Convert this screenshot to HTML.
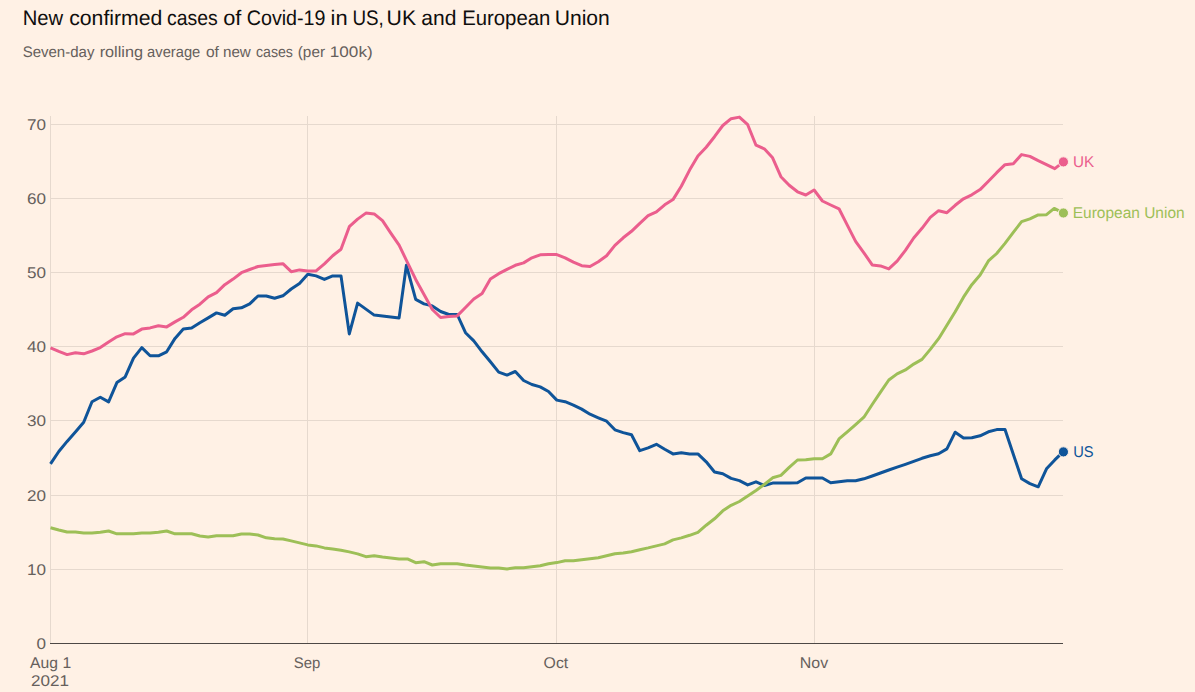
<!DOCTYPE html>
<html><head><meta charset="utf-8"><title>Covid-19 cases</title>
<style>
html,body{margin:0;padding:0;background:#FFF1E5;}
body{width:1195px;height:692px;overflow:hidden;font-family:"Liberation Sans",sans-serif;}
svg{display:block;font-family:"Liberation Sans",sans-serif;}
.g{stroke:#e6d9ce;stroke-width:1;shape-rendering:crispEdges;}
.ln{fill:none;stroke-width:3;stroke-linejoin:round;stroke-linecap:butt;}
</style></head><body>
<svg width="1195" height="692" viewBox="0 0 1195 692">
<rect width="1195" height="692" fill="#FFF1E5"/>

<line class="g" x1="50" x2="1063" y1="569.5" y2="569.5"/>
<line class="g" x1="50" x2="1063" y1="495.5" y2="495.5"/>
<line class="g" x1="50" x2="1063" y1="420.5" y2="420.5"/>
<line class="g" x1="50" x2="1063" y1="346.5" y2="346.5"/>
<line class="g" x1="50" x2="1063" y1="272.5" y2="272.5"/>
<line class="g" x1="50" x2="1063" y1="198.5" y2="198.5"/>
<line class="g" x1="50" x2="1063" y1="124.5" y2="124.5"/>
<line class="g" x1="50.5" x2="50.5" y1="116" y2="643"/>
<line class="g" x1="307.5" x2="307.5" y1="116" y2="643"/>
<line class="g" x1="556.5" x2="556.5" y1="116" y2="643"/>
<line class="g" x1="814.5" x2="814.5" y1="116" y2="643"/>
<line x1="50" x2="1063" y1="643.5" y2="643.5" stroke="#4d4845" stroke-width="1" shape-rendering="crispEdges"/>
<text text-rendering="geometricPrecision" transform="translate(22.78,24.7) scale(0.9623,1)" font-size="21.0" fill="#0f0e0d">New</text>
<text text-rendering="geometricPrecision" transform="translate(69.15,24.7) scale(1.0112,1)" font-size="21.0" fill="#0f0e0d">confirmed</text>
<text text-rendering="geometricPrecision" transform="translate(166.92,24.7) scale(0.9243,1)" font-size="21.0" fill="#0f0e0d">cases</text>
<text text-rendering="geometricPrecision" transform="translate(223.13,24.7) scale(1.0368,1)" font-size="21.0" fill="#0f0e0d">of</text>
<text text-rendering="geometricPrecision" transform="translate(246.72,24.7) scale(0.9377,1)" font-size="21.0" fill="#0f0e0d">Covid-19</text>
<text text-rendering="geometricPrecision" transform="translate(330.57,24.7) scale(1.0417,1)" font-size="21.0" fill="#0f0e0d">in</text>
<text text-rendering="geometricPrecision" transform="translate(352.50,24.7) scale(0.8952,1)" font-size="21.0" fill="#0f0e0d">US,</text>
<text text-rendering="geometricPrecision" transform="translate(386.61,24.7) scale(1.0078,1)" font-size="21.0" fill="#0f0e0d">UK</text>
<text text-rendering="geometricPrecision" transform="translate(421.36,24.7) scale(1.0012,1)" font-size="21.0" fill="#0f0e0d">and</text>
<text text-rendering="geometricPrecision" transform="translate(462.17,24.7) scale(0.9683,1)" font-size="21.0" fill="#0f0e0d">European</text>
<text text-rendering="geometricPrecision" transform="translate(554.72,24.7) scale(1.0025,1)" font-size="21.0" fill="#0f0e0d">Union</text>
<text text-rendering="geometricPrecision" transform="translate(22.65,56.65) scale(0.9811,1)" font-size="15.3" fill="#66605c">Seven-day</text>
<text text-rendering="geometricPrecision" transform="translate(99.66,56.65) scale(1.0618,1)" font-size="15.3" fill="#66605c">rolling</text>
<text text-rendering="geometricPrecision" transform="translate(147.11,56.65) scale(0.9610,1)" font-size="15.3" fill="#66605c">average</text>
<text text-rendering="geometricPrecision" transform="translate(205.88,56.65) scale(1.0176,1)" font-size="15.3" fill="#66605c">of</text>
<text text-rendering="geometricPrecision" transform="translate(222.94,56.65) scale(0.9933,1)" font-size="15.3" fill="#66605c">new</text>
<text text-rendering="geometricPrecision" transform="translate(255.93,56.65) scale(0.9264,1)" font-size="15.3" fill="#66605c">cases</text>
<text text-rendering="geometricPrecision" transform="translate(297.78,56.65) scale(0.9996,1)" font-size="15.3" fill="#66605c">(per</text>
<text text-rendering="geometricPrecision" transform="translate(329.83,56.65) scale(1.1189,1)" font-size="15.3" fill="#66605c">100k)</text>
<text text-rendering="geometricPrecision" transform="translate(36.41,648.75) scale(1.1024,1)" font-size="15.5" fill="#66605c">0</text>
<text text-rendering="geometricPrecision" transform="translate(27.02,574.75) scale(1.1024,1)" font-size="15.5" fill="#66605c">10</text>
<text text-rendering="geometricPrecision" transform="translate(27.02,500.75) scale(1.1024,1)" font-size="15.5" fill="#66605c">20</text>
<text text-rendering="geometricPrecision" transform="translate(27.02,425.75) scale(1.1024,1)" font-size="15.5" fill="#66605c">30</text>
<text text-rendering="geometricPrecision" transform="translate(27.02,351.75) scale(1.1024,1)" font-size="15.5" fill="#66605c">40</text>
<text text-rendering="geometricPrecision" transform="translate(27.02,277.75) scale(1.1024,1)" font-size="15.5" fill="#66605c">50</text>
<text text-rendering="geometricPrecision" transform="translate(27.02,203.75) scale(1.1024,1)" font-size="15.5" fill="#66605c">60</text>
<text text-rendering="geometricPrecision" transform="translate(27.02,129.75) scale(1.1024,1)" font-size="15.5" fill="#66605c">70</text>
<text text-rendering="geometricPrecision" transform="translate(30.10,667.9) scale(1.0131,1)" font-size="15.5" fill="#66605c">Aug 1</text>
<text text-rendering="geometricPrecision" transform="translate(31.05,685.9) scale(1.1016,1)" font-size="15.5" fill="#66605c">2021</text>
<text text-rendering="geometricPrecision" transform="translate(293.85,667.7) scale(0.9620,1)" font-size="15.5" fill="#66605c">Sep</text>
<text text-rendering="geometricPrecision" transform="translate(543.61,667.7) scale(1.0194,1)" font-size="15.5" fill="#66605c">Oct</text>
<text text-rendering="geometricPrecision" transform="translate(799.83,667.8) scale(1.0269,1)" font-size="15.5" fill="#66605c">Nov</text>
<text text-rendering="geometricPrecision" transform="translate(1073.08,166.75) scale(0.9789,1)" font-size="15.6" fill="#EB5E8D">UK</text>
<text text-rendering="geometricPrecision" transform="translate(1072.76,217.7) scale(0.9923,1)" font-size="15.6" fill="#9DBF57">European Union</text>
<text text-rendering="geometricPrecision" transform="translate(1073.13,456.75) scale(0.9412,1)" font-size="15.6" fill="#0F5499">US</text>
<path class="ln" stroke="#0F5499" d="M50.5,463.9 L58.8,451.5 L67.1,441.4 L75.4,432.0 L83.7,422.3 L92.0,401.7 L100.3,397.2 L108.6,401.9 L116.9,382.6 L125.2,376.9 L133.5,358.1 L141.8,347.6 L150.1,355.8 L158.4,355.8 L166.7,351.8 L175.0,338.4 L183.3,328.9 L191.6,327.9 L199.9,322.7 L208.2,317.9 L216.5,312.9 L224.8,315.3 L233.1,308.8 L241.4,307.8 L249.7,303.8 L258.0,296.0 L266.3,296.0 L274.6,298.2 L282.9,295.8 L291.2,289.0 L299.5,283.4 L307.8,274.3 L316.1,275.9 L324.4,279.4 L332.7,275.9 L341.0,275.9 L349.3,333.9 L357.6,303.1 L365.9,309.1 L374.2,315.1 L382.5,315.9 L390.8,316.9 L399.1,317.9 L406.4,265.3 L415.7,299.4 L424.0,303.9 L432.3,305.9 L440.6,311.5 L448.9,314.5 L457.2,314.5 L465.5,332.7 L473.8,340.9 L482.1,351.8 L490.4,361.8 L498.7,372.1 L507.0,375.1 L515.3,371.5 L523.6,380.5 L531.9,384.5 L540.2,386.9 L548.5,391.5 L556.8,400.1 L565.1,401.7 L573.4,405.1 L581.7,409.1 L590.0,414.2 L598.3,417.8 L606.6,421.2 L614.9,429.8 L623.2,432.6 L631.5,434.8 L639.8,450.7 L648.1,447.9 L656.4,444.3 L664.7,449.3 L673.0,453.9 L681.3,452.7 L689.6,453.9 L697.9,453.9 L706.2,461.8 L714.5,472.0 L722.8,473.8 L731.1,478.4 L739.4,480.6 L747.7,484.9 L756.0,481.8 L764.3,485.5 L772.6,483.1 L780.9,483.1 L789.2,483.1 L797.5,482.8 L805.8,478.0 L814.1,478.0 L822.4,478.0 L830.7,482.8 L839.0,481.8 L847.3,480.8 L855.6,480.8 L863.9,478.8 L872.2,476.0 L880.5,473.0 L888.8,470.0 L897.1,467.2 L905.4,464.4 L913.7,461.4 L922.0,458.3 L930.3,455.7 L938.6,453.7 L946.9,448.9 L955.2,432.2 L963.5,437.9 L971.8,437.8 L980.1,435.8 L988.4,431.8 L996.7,429.6 L1005.0,429.6 L1013.3,454.3 L1021.6,478.8 L1029.9,483.6 L1038.2,486.8 L1046.5,468.8 L1054.8,459.9 L1063.1,451.9"/>
<path class="ln" stroke="#9DBF57" d="M50.5,527.8 L58.8,530.0 L67.1,532.0 L75.4,532.0 L83.7,533.0 L92.0,533.0 L100.3,532.2 L108.6,531.0 L116.9,533.8 L125.2,533.8 L133.5,533.8 L141.8,533.0 L150.1,533.0 L158.4,532.2 L166.7,531.0 L175.0,533.8 L183.3,533.8 L191.6,533.8 L199.9,536.0 L208.2,537.0 L216.5,535.8 L224.8,535.8 L233.1,535.8 L241.4,534.0 L249.7,534.0 L258.0,535.0 L266.3,537.8 L274.6,538.8 L282.9,539.0 L291.2,540.9 L299.5,542.9 L307.8,544.9 L316.1,545.9 L324.4,547.9 L332.7,549.1 L341.0,550.3 L349.3,551.9 L357.6,553.9 L365.9,556.7 L374.2,555.7 L382.5,556.9 L390.8,557.9 L399.1,558.9 L407.4,558.9 L415.7,562.7 L424.0,561.7 L432.3,565.0 L440.6,563.7 L448.9,563.7 L457.2,563.7 L465.5,565.0 L473.8,566.0 L482.1,567.0 L490.4,568.0 L498.7,568.0 L507.0,569.0 L515.3,567.8 L523.6,567.8 L531.9,566.8 L540.2,565.8 L548.5,563.8 L556.8,562.6 L565.1,560.8 L573.4,560.8 L581.7,559.8 L590.0,558.8 L598.3,557.8 L606.6,555.8 L614.9,553.7 L623.2,552.9 L631.5,551.7 L639.8,549.7 L648.1,547.9 L656.4,545.9 L664.7,543.9 L673.0,539.9 L681.3,537.9 L689.6,535.3 L697.9,532.3 L706.2,525.2 L714.5,518.8 L722.8,510.8 L731.1,505.3 L739.4,501.5 L747.7,496.1 L756.0,490.5 L764.3,484.5 L772.6,477.8 L780.9,475.4 L789.2,467.4 L797.5,460.0 L805.8,459.8 L814.1,458.7 L822.4,458.7 L830.7,453.9 L839.0,438.9 L847.3,431.8 L855.6,424.6 L863.9,417.2 L872.2,404.5 L880.5,392.1 L888.8,380.0 L897.1,373.9 L905.4,369.9 L913.7,364.1 L922.0,359.4 L930.3,349.4 L938.6,338.7 L946.9,325.3 L955.2,311.8 L963.5,297.2 L971.8,284.7 L980.1,275.1 L988.4,260.9 L996.7,253.5 L1005.0,243.4 L1013.3,232.4 L1021.6,221.7 L1029.9,218.9 L1038.2,214.9 L1046.5,214.7 L1054.2,208.4 L1063.1,212.9"/>
<path class="ln" stroke="#EB5E8D" d="M50.5,347.8 L58.8,351.4 L67.1,354.6 L75.4,352.8 L83.7,353.8 L92.0,351.0 L100.3,347.6 L108.6,342.0 L116.9,336.8 L125.2,333.7 L133.5,333.9 L141.8,329.1 L150.1,327.9 L158.4,325.7 L166.7,326.9 L175.0,321.9 L183.3,317.3 L191.6,309.8 L199.9,304.2 L208.2,296.8 L216.5,292.6 L224.8,284.7 L233.1,279.1 L241.4,272.7 L249.7,269.5 L258.0,266.5 L266.3,265.5 L274.6,264.5 L282.9,263.7 L291.2,271.7 L299.5,269.9 L307.8,270.9 L316.1,270.9 L324.4,263.9 L332.7,255.7 L341.0,249.2 L349.3,226.7 L357.6,219.1 L365.9,213.1 L374.2,213.9 L382.5,220.7 L390.8,233.2 L399.1,245.2 L407.4,262.3 L415.7,279.4 L424.0,294.4 L432.3,309.5 L440.6,317.5 L448.9,316.5 L457.2,315.9 L465.5,307.5 L473.8,299.0 L482.1,293.4 L490.4,278.9 L498.7,273.7 L507.0,269.3 L515.3,265.3 L523.6,262.9 L531.9,257.8 L540.2,254.8 L548.5,254.6 L556.8,254.6 L565.1,257.8 L573.4,262.1 L581.7,265.7 L590.0,266.5 L598.3,261.7 L606.6,255.8 L614.9,245.4 L623.2,237.8 L631.5,231.3 L639.8,223.3 L648.1,215.7 L656.4,211.9 L664.7,204.8 L673.0,199.6 L681.3,186.2 L689.6,170.1 L697.9,156.0 L706.2,147.2 L714.5,136.7 L722.8,125.5 L731.1,118.7 L739.4,117.1 L747.7,124.7 L756.0,145.2 L764.3,148.8 L772.6,157.8 L780.9,176.7 L789.2,185.3 L797.5,191.8 L805.8,195.0 L814.1,190.0 L822.4,201.0 L830.7,205.0 L839.0,208.8 L847.3,225.1 L855.6,241.4 L863.9,252.8 L872.2,264.9 L880.5,265.9 L888.8,268.9 L897.1,261.1 L905.4,250.4 L913.7,238.0 L922.0,228.3 L930.3,217.3 L938.6,210.7 L946.9,212.7 L955.2,205.3 L963.5,198.8 L971.8,194.8 L980.1,189.6 L988.4,181.2 L996.7,172.7 L1005.0,164.7 L1013.3,163.7 L1021.6,154.6 L1029.9,156.4 L1038.2,160.7 L1046.5,164.7 L1054.8,168.7 L1063.1,162.1"/>
<circle cx="1063.4" cy="161.9" r="5.1" fill="#EB5E8D" stroke="#FFF1E5" stroke-width="1"/>
<circle cx="1063.4" cy="213.0" r="5.1" fill="#9DBF57" stroke="#FFF1E5" stroke-width="1"/>
<circle cx="1063.4" cy="451.9" r="5.1" fill="#0F5499" stroke="#FFF1E5" stroke-width="1"/>
</svg></body></html>
